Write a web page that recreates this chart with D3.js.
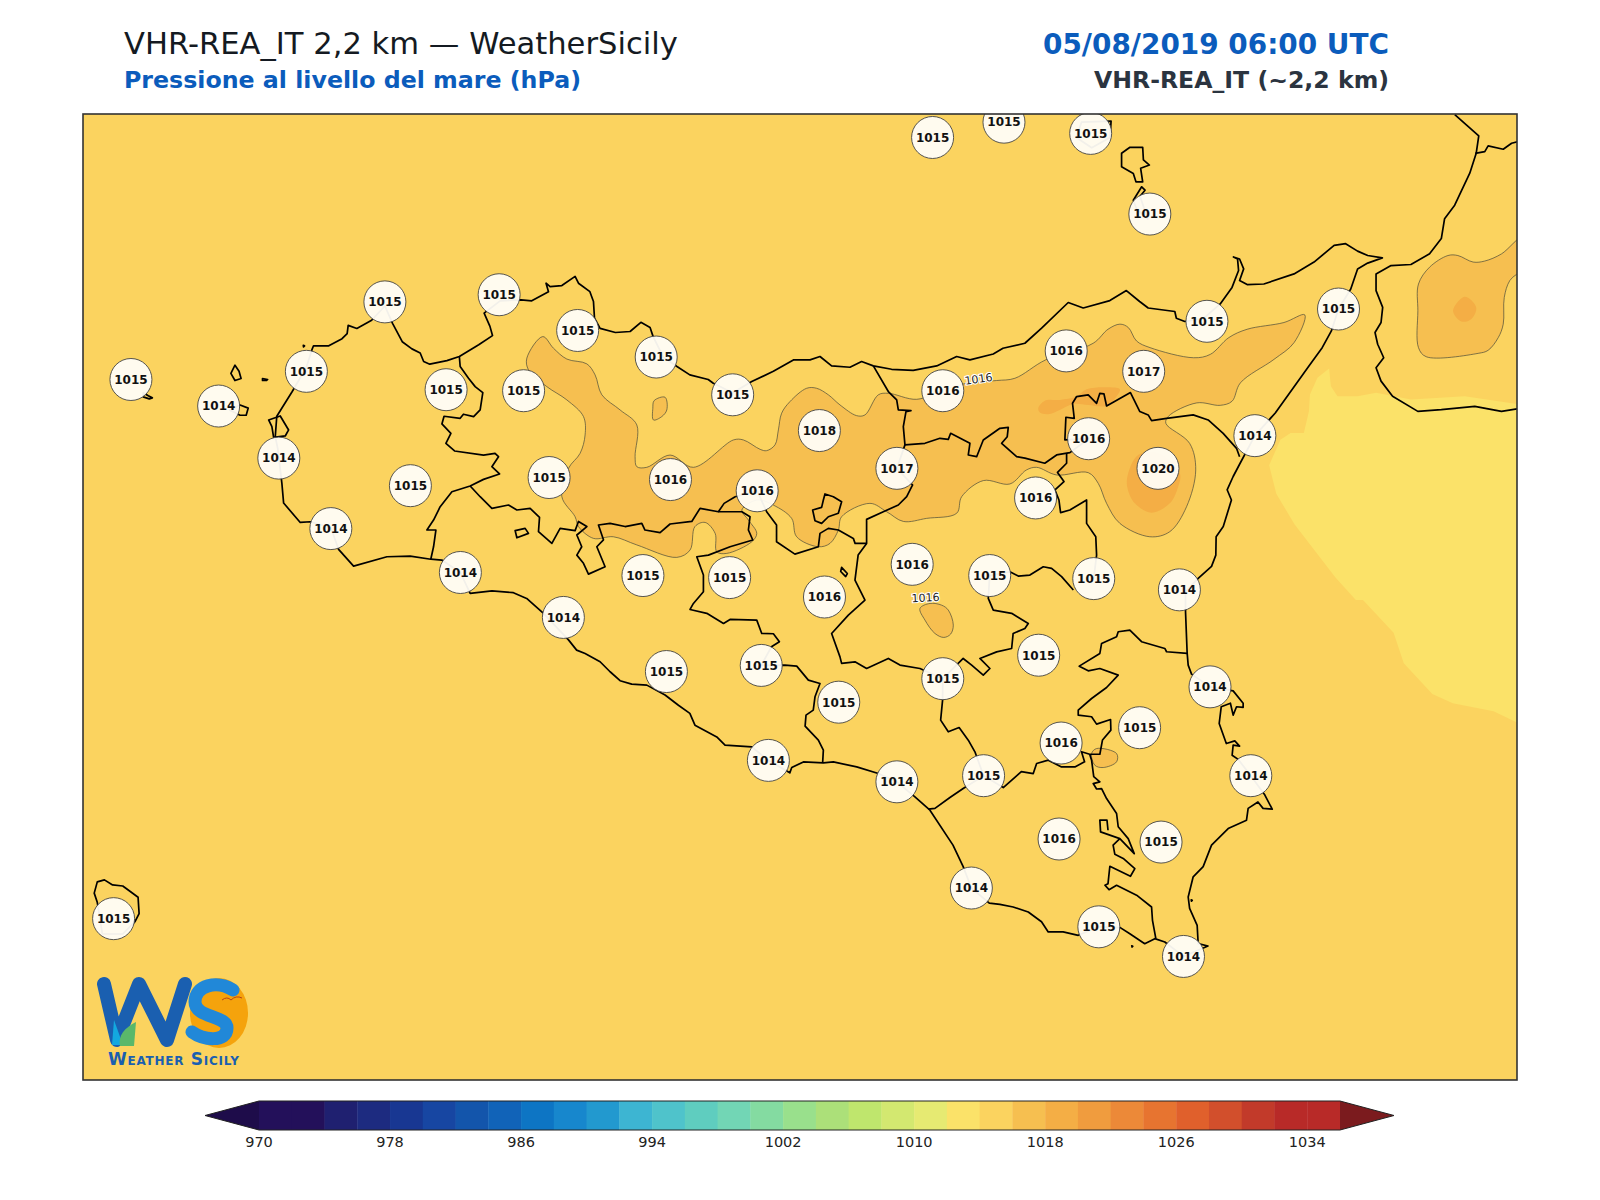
<!DOCTYPE html>
<html>
<head>
<meta charset="utf-8">
<script src="https://cdn.jsdelivr.net/npm/d3@7"></script>
<style>
body { margin: 0; background: #fff; }
svg { display: block; }
text { font-family: "DejaVu Sans", sans-serif; }
</style>
</head>
<body>
<div id="chart"></div>
<script>
// colour bar
var bandStart = [970,972,974,976,978,980,982,984,986,988,990,992,994,996,998,1000,1002,1004,1006,1008,1010,1012,1014,1016,1018,1020,1022,1024,1026,1028,1030,1032,1034];
var bandColor = ["#23105a","#23105a","#1f2070","#1d2b80","#183792","#1746a2","#1355ab","#1163b8","#0d75c4","#1787cd","#2299cf","#3db5d2","#4fc3cb","#5fcdbf","#72d6b5","#84dba1","#99e08c","#ace079","#bfe66d","#d3e870","#e6ea72","#fbe269","#fbd35f","#f6bf50","#f4ae45","#f09c3e","#ec8938","#e77430","#e0602c","#d24f2c","#c23a2a","#b82a28","#b82a28"];
var barTicks = [970,978,986,994,1002,1010,1018,1026,1034];
var underColor = "#1e0c4a", overColor = "#7b1b1e";

// map grid, columns 81-1487 and rows 112-1058
var gridX = [81,1487], gridY = [112,1058];

// pressure stations: column, row, hPa
var stations = [[914,135,1015],[984,120,1015],[1069,131,1015],[1127,210,1015],[377,296,1015],[489,289,1015],[566,324,1015],[643,350,1015],[128,372,1015],[214,398,1014],[300,364,1015],[437,382,1015],[513,383,1015],[718,387,1015],[273,449,1014],[402,476,1015],[538,468,1015],[657,470,1016],[742,481,1016],[803,422,1018],[879,459,1017],[924,383,1016],[1045,344,1016],[1121,364,1017],[1183,315,1015],[1312,303,1015],[1067,430,1016],[1135,459,1020],[1230,427,1014],[1015,488,1016],[324,518,1014],[451,561,1014],[630,564,1015],[715,566,1015],[894,553,1016],[970,564,1015],[1072,567,1015],[1156,578,1014],[808,585,1016],[552,605,1014],[1018,642,1015],[653,658,1015],[746,652,1015],[924,665,1015],[1186,673,1014],[822,688,1015],[1117,713,1015],[1040,728,1016],[753,745,1014],[879,766,1014],[964,760,1015],[1226,760,1014],[1038,822,1016],[1138,825,1015],[952,870,1014],[111,900,1015],[1077,908,1015],[1160,937,1014]];

// pressure bands
var band1012 = [[1302.8,361.2],[1304.5,378.6],[1311,388.4],[1330.7,388.4],[1348.8,385],[1383,391.7],[1435.7,388.4],[1487,396],[1487,708],[1464,697],[1424,689],[1404,680],[1376,650],[1366,620],[1336,588],[1329,588],[1309,566],[1289,540],[1269,514],[1251,484],[1244,456],[1255,431],[1265,424.5],[1278,424.5],[1283,403],[1284,386.8],[1291.3,370.4]];
var band1016Main = [[531.8,330],[542.3,341.4],[555.4,352],[575,356.7],[583.1,367.5],[589.7,387],[607.6,401.8],[624,416.5],[622.3,447.6],[624,457.4],[633.8,458],[656.6,446],[679.5,458],[718.7,431.2],[728.5,431.2],[744.9,440.4],[751.3,441.7],[759.5,436],[762.8,421.4],[766,405],[774.2,393.6],[790.5,380.6],[800.3,380.6],[811.8,387],[823.2,396.9],[839.5,407.4],[847.7,406.7],[860.8,387],[870.6,385.5],[898.4,391.4],[925,382],[947.4,375.7],[976.8,373],[994.7,370.8],[1024.8,352.8],[1071.5,336.5],[1086,322.8],[1097.7,317.8],[1105.9,321.1],[1114,334.3],[1127.2,340.8],[1169.9,350.7],[1186.3,347.4],[1204.4,331],[1222.4,322.8],[1258.5,316.2],[1278.9,308.7],[1268.4,335.9],[1248.7,352.3],[1215.8,375.3],[1207.6,393.3],[1196,397.3],[1173,394.9],[1145.3,408],[1142.7,414.9],[1166,434.5],[1172,460.6],[1163,496.6],[1146.6,521],[1127,526],[1097.6,512.9],[1084.6,493.3],[1076.4,473.7],[1066.6,463.2],[1035.6,465.5],[1016,458],[1006,460.6],[989.8,474.3],[963.7,471],[942.5,486.8],[937.6,503],[908.2,508],[885.3,511],[869,501.5],[852.6,493.3],[824.8,506.4],[821.6,519.4],[813.4,532.5],[802,535.8],[780.7,526],[775.8,508],[757.9,495],[742,490],[727,499.8],[733.4,509.6],[741.6,522.7],[736.7,530.9],[712.2,542.3],[702.4,540.7],[700.8,522.7],[691,512],[681,516],[676.2,539],[663.2,546.2],[624,534],[601,526],[581.5,527.6],[566.8,516],[563.5,506.4],[550.5,486.8],[557,459],[568.4,444.3],[573.3,426.3],[571.7,408.3],[555.4,392],[535.8,379],[517.8,362.6],[516.2,351]];
var band1016Spot = [[641,392.7],[651.7,389.4],[653.4,401.8],[648.5,408.3],[640.3,411.6],[639.7,400.2]];
var band1016Mid = [[901.6,596.2],[906.5,607.6],[916.3,620.7],[925,624.6],[931.7,621.3],[934.3,612.5],[929.4,597.8],[922.9,593],[911.4,591.3]];
var band1016East = [[1069.9,738.3],[1074.8,733.4],[1094.4,738.3],[1094.4,746.4],[1081.3,752],[1073,749.7]];
var band1016Calabria = [[1390.4,278.5],[1401.3,262],[1419.3,250.6],[1429,250.6],[1444,257],[1455.4,256],[1471.8,249],[1492,233],[1492,263],[1480,275],[1474.5,291.6],[1473.5,317.8],[1468.6,331],[1458.7,343.4],[1448.9,346.4],[1398,349.7],[1390.4,340.8],[1389.8,304.7]];
var band1018North = [[1017.6,400],[1024,392.7],[1038.8,392],[1055,388.7],[1065,381.6],[1084.6,379.6],[1097.6,381.6],[1094.4,388.7],[1084.6,397.9],[1066.6,397],[1052,396],[1038.8,401.8],[1027.4,406],[1019.2,404.4]];
var band1018Etna = [[1115.6,446],[1105.8,463.9],[1104.8,477],[1112.3,493.3],[1128.7,502.4],[1146.6,493.3],[1154.8,477],[1156.4,463.9],[1135,444]];
var band1018Calabria = [[1435.7,291],[1447,301.4],[1442,313],[1432.4,315.2],[1424.3,304.7]];

// contour labels: column, row, tilt, text
var contourLabels = [[959,371.5,-8,"1016"],[907,585.7,-3,"1016"]];

// coastline rings
var sicily = [[276,473.7],[272,440],[269.5,428],[271,408],[286,384],[300,360],[305.4,343],[307,339],[322,339],[335,332],[340,327],[341,319],[349.5,322],[364,314],[377,300],[384.5,317],[394,335],[403.5,342],[411.6,346],[415,354.4],[421,357],[437.8,353.5],[450,349.5],[469,338],[482.5,329],[480,320],[474.3,307],[490,295],[510.6,294],[521,295],[537.4,286],[535,277.7],[539,281],[550.5,280],[563.5,271],[566.8,277.7],[578,286],[581.5,295.6],[582.5,312],[588,322],[603,326],[617.4,325],[628,316],[637,321],[640,330],[650,350],[663,359],[676,367.5],[694,372],[699,375.7],[718,385],[736.7,374],[757.9,364],[777.5,352.8],[793.8,352.8],[803.6,349.5],[815,358.7],[833,360],[844.4,354.4],[855.9,358.7],[873.8,362],[895,363],[918,358.7],[937.6,349.5],[950.6,352.8],[973.5,347],[983,341.4],[1004.5,336.5],[1020.9,321.8],[1047,296.6],[1061.7,302],[1087.8,294.7],[1104,284.9],[1117,295.6],[1125.4,302],[1151.5,305.4],[1153,312],[1161.3,315.2],[1180,312],[1196,298],[1207.6,281.8],[1214,265.3],[1213,253.9],[1209,252],[1215,254],[1219,263.7],[1215,275],[1222.4,279],[1238.8,278.5],[1268.4,268.6],[1288,257],[1307.7,240.7],[1319,239],[1330.7,246.3],[1340.6,250.6],[1355,252.9],[1340.6,258],[1330.7,263.7],[1324,283.4],[1312,303],[1305,324.4],[1296,340.8],[1283,358.9],[1250,404.8],[1230,427],[1215,455],[1208.7,467],[1202.8,480],[1207,490],[1199,516],[1192,526],[1191.7,544],[1187.5,555],[1174.4,566.8],[1162,580],[1162,599.4],[1163.6,640],[1164.6,651.7],[1167.9,660.5],[1186,673],[1208.7,676.9],[1218.5,689],[1218.5,693],[1212,692.5],[1208.7,700.7],[1206,689],[1197,692.5],[1195,708.9],[1202,728.5],[1210.3,725.9],[1215,731],[1208.7,730],[1207.7,740],[1213.6,744],[1226,760],[1239.8,779],[1247,792.8],[1238,792],[1233,785.7],[1223.4,792],[1221.8,803.6],[1203.8,811.8],[1187.5,828],[1179.3,849],[1169.5,859],[1164.6,878.8],[1166,890],[1173.4,906.5],[1174.4,924.5],[1184,926.8],[1160,937],[1141.7,922.9],[1131.9,919.6],[1122,924.5],[1107.4,914.7],[1098,908.8],[1077,908],[1056.8,916.3],[1042,913],[1027.4,913],[1020.8,903],[1007.8,893.5],[993,888.6],[980,886],[969.6,884.7],[952,870],[944,849],[934,828],[911.4,793.8],[896.7,780.8],[879,766],[860.8,757.9],[839.6,751.4],[816.7,746.5],[806.9,747.4],[787.3,746.5],[775.9,752],[774,757.2],[753,745],[736.7,731.8],[710.5,730],[702.4,722],[681,710.5],[676,699],[664.8,691],[651.7,681],[633.8,671.3],[619,670.3],[607.6,667],[597.8,658.2],[588,648.4],[573.3,640.3],[565,637],[557,627],[532.5,601],[516,586.4],[503,580.8],[482,579],[460.6,581.5],[451,561],[432.8,548.8],[422,548],[401.8,545],[379,545.6],[346.3,554.7],[331.6,538.4],[324,517],[303.8,511.3],[294,512],[277.7,493]];
var stagnone = [[263,411.6],[274.4,407.7],[282.6,421.4],[279.3,427.3],[267.9,428.6],[266.2,418.2]];
var levanzo = [[230,358],[226,366],[230,373],[236,371],[234,364]];
var formica = [[257,371],[262,372],[261,373],[257,373]];
var favignana = [[235,397],[243,400],[241,407],[235,407],[225,402]];
var marettimo = [[140,385],[145,388],[149,390],[146,391],[140,389]];
var pantelleria = [[92,875],[95,864],[102,862],[110,867],[120,868],[135,879],[136,895],[132,903],[120,915],[100,915],[95,884]];
var lipari = [[1099.3,150.5],[1107.5,144.6],[1120,144.6],[1120.7,157],[1126.6,162],[1118,165.2],[1120,178.4],[1113.4,178.4],[1110.8,170.2],[1099.3,163.6]];
var vulcano = [[1119,183.3],[1122.3,186.6],[1117.4,192.5],[1125,215],[1114,205],[1110.8,196.4]];
var salina = [[1060,120],[1089,119],[1088,135],[1070,145],[1055,135]];
var islets = [[[297,338.5],[298.2,339],[297.2,340]],[[1109.3,926.6],[1110.3,927],[1109.6,927.8]],[[1167.6,881.6],[1168.6,882],[1167.8,882.8]]];
var calabria = [[1426,112.7],[1439,124.2],[1449.5,133.4],[1447,150.5],[1440.7,170],[1425.9,201.3],[1416,214.5],[1412.8,234],[1401.3,248.9],[1383,259.4],[1363.5,260.4],[1348.8,268.6],[1348.8,285],[1355.3,301.4],[1353.7,316.2],[1347.8,326],[1350.4,337.5],[1356.3,350.7],[1348.8,360.5],[1353.7,373.6],[1365,388.4],[1389.8,403.2],[1412.8,401.5],[1445.6,398.3],[1471.8,403.2],[1488,400.6]];
var calabriaBorder = [[1446,150.5],[1455.4,148.8],[1458.7,143.2],[1473.5,146.5],[1481.7,140.6],[1488,139]];

// province borders
var borderTrapani = [[450,349.5],[450.8,359.3],[459,370.8],[465.5,379],[473,384.8],[470.4,401.8],[464,408.3],[454,406],[450.8,410],[435,408],[432.9,415.5],[441.7,424.7],[436.8,434.5],[445.3,442],[473.7,446],[485,444.3],[488.4,447.6],[481.9,457.4],[489.4,464.5],[473.7,469.8],[460.6,476.3],[442.7,481.9],[431.2,496.6],[424.7,509.6],[418.2,519.4],[427,519.4],[424.7,535.8],[422,548]];
var borderPalermo = [[460.6,476.3],[470.4,486.8],[481.9,498.2],[498.2,494.9],[506.4,499.8],[519.4,498.2],[528.6,507],[527.6,521],[540.7,532.5],[548.8,517.8],[563.5,520],[566.8,511],[575,516],[565.2,524.3],[570,535.8],[565.2,544],[571.7,552],[576.6,562.6],[592.9,555.4],[584.8,535.8],[591.3,529],[586.4,514.5],[597.8,512.9],[612.5,516],[628.9,512.9],[632,519.4],[646.8,522],[656.6,513.5],[677.9,511],[686,498.2],[704,501.5],[709.6,493.3],[720.4,486.8]];
var borderSciacca = [[704,501.5],[727,501.5],[735,506.4],[733.4,519.4],[737.7,529.2],[715.4,535.8],[694.2,544],[682.8,545.6],[689.3,563.5],[689.3,579.9],[679.5,591.3],[676.2,597.2],[692.6,601],[709,610.9],[715.4,607],[741.6,607.6],[746.5,620.7],[757.9,621],[763.8,628.8],[756,633.7],[746,652],[769.3,651.7],[780.8,652.7],[792.2,666.4],[803.6,669.7],[798.7,682.7],[797,695.8],[789.9,700.7],[789,711.5],[802,725.2],[806.9,735],[806.2,747.4]];
var borderMadonie = [[855.9,358.7],[870.6,383.8],[878.8,392],[880.4,401.8],[892.8,402.5],[887.9,403.4],[885.3,418.2],[886.9,436],[906.5,434.5],[921.2,429.6],[929.4,430.6],[931.7,424.7],[950.6,434.5],[949,445.9],[957.2,447.6],[963.7,431.2],[980,419.8],[988.2,418.8],[987.2,428],[981.7,434.5],[996.4,447.6],[1004.5,449],[1024,454],[1035.6,445.9],[1048.6,443.6],[1067,430],[1043.7,431.2],[1044.7,409],[1052.9,410],[1051.2,395.3],[1055.2,388.7],[1066.6,387],[1074.8,395.3],[1078,385.5],[1082,386],[1084.6,397.9],[1108,384.8],[1117.2,403.4],[1125.4,406.7],[1128.7,412.3],[1143.4,410],[1169.5,406.7],[1184.2,411.6],[1198.9,424.7],[1212,439.4],[1215,447.6]];
var borderEnna = [[1045.4,444.3],[1045.4,454],[1036.5,463],[1042.8,472],[1034,480.2],[1037.9,490],[1039.5,502.4],[1048.6,499.8],[1065,490],[1065,512.9],[1074,526],[1074.8,544],[1072,567]];
var borderCatania = [[970,564],[989.8,560.3],[998,564.5],[1009.4,563.5],[1022.5,555.4],[1030.7,557],[1040.5,565],[1052,578.2]];
var borderEnnaSouth = [[970,564],[968.6,586.4],[973.5,597.8],[991.5,601],[1007.8,610.9],[1004.5,615.8],[993,620.7],[991.5,635.4],[976.8,638.7],[960.4,645.2],[970.2,655],[963.7,661.5],[952.3,651.7],[944,645.2],[924,665],[901.6,655],[882,651.7],[870.6,645.2],[849.3,655],[837.9,648.5],[824.8,650],[823.2,643.6],[815,620.7],[831.4,602.7],[847.7,588],[837.9,568.4],[841,543.9],[849.3,532.5],[849.3,509],[865.7,501.5],[880.4,494.9],[888.6,486.8],[894.4,475.3],[879,459],[886.9,436]];
var borderSalso = [[849.3,532.5],[838,532.5],[836.3,527.6],[821.6,519.4],[811.8,517.8],[803.6,522.7],[802,535.8],[779,543],[761,530.9],[761,514.5],[751.3,501.5],[742,481],[720.4,486.8]];
var enclaveNorth = [[808.5,484.1],[816.7,486.8],[824.8,491.7],[821.6,503],[811.8,506.4],[805.2,512.9],[798.7,510.3],[796.4,499.8],[805.2,497.2],[806.9,490]];
var enclaveSouth = [[824.8,556],[830.4,562],[828.8,565],[823.9,560]];
var enclaveWest = [[504.7,520],[514.5,517.8],[517.8,522.7],[506.4,527]];
var borderRagusaNorth = [[924,665],[923.8,686],[921.9,705.6],[929.4,717],[940,712.8],[949,725.2],[955.5,736.6],[964,760],[944,772.6],[931,781.4],[916.3,792],[909.8,792.8]];
var borderSiracusa = [[964,760],[983.3,771.6],[1001,756],[1012.7,757.9],[1016,748],[1027.4,744.8],[1040.4,751.4],[1053.5,751.4],[1063,746.4],[1060,736.6],[1068,739],[1078,739],[1080.6,725],[1088.8,715.4],[1088.5,705],[1074.8,709.5],[1069.9,702.3],[1056.8,700.7],[1056.8,695.8],[1069.9,684.4],[1084.6,673.6],[1096,661.5],[1078,655],[1066.6,657.3],[1057.8,652.7],[1078,640.3],[1079.7,630.5],[1094.4,623.9],[1096,619],[1107.4,617.4],[1118.9,628.8],[1141.7,635.4],[1143.4,638.6],[1163.6,640.3]];
var borderRagusaEast = [[1068,739],[1069.9,744.8],[1072,761],[1078,766],[1071.5,767.7],[1074.8,773],[1079.7,772.6],[1084.6,782.4],[1094.4,797],[1096,810],[1105.8,821.6],[1111.7,836.3],[1097.6,821.6],[1078.7,815],[1078,803.6],[1085,803.6],[1086,813.4]];
var borderRagusaSouth = [[1097.6,821.6],[1091,828],[1092.7,837],[1100.9,841],[1112.3,851],[1108,858.5],[1087.8,848.7],[1086,865.7],[1083,867.3],[1087,871.6],[1094.4,867.3],[1114,877],[1128.7,888.6],[1129.6,901.6],[1132.9,919.6]];

var openLines = [calabria, calabriaBorder, borderTrapani, borderPalermo, borderSciacca, borderMadonie, borderEnna, borderCatania, borderEnnaSouth, borderSalso, borderRagusaNorth, borderSiracusa, borderRagusaEast, borderRagusaSouth];
var closedLines = [sicily, stagnone, levanzo, formica, favignana, marettimo, pantelleria, lipari, vulcano, salina, enclaveNorth, enclaveSouth, enclaveWest].concat(islets);

var width = 1600, height = 1200;
var plot = {left: 83, right: 1517, top: 114, bottom: 1080};

var svg = d3.select("#chart").append("svg").attr("width", width).attr("height", height);

var x = d3.scaleLinear().domain(gridX).range([plot.left, plot.right]);
var y = d3.scaleLinear().domain(gridY).range([plot.top, plot.bottom]);

function colorFor(level) {
    return bandColor[bandStart.indexOf(level)];
}

var openPath = d3.line().x(d => x(d[0])).y(d => y(d[1]));
var closedPath = d3.line().x(d => x(d[0])).y(d => y(d[1])).curve(d3.curveLinearClosed);
var smoothPath = d3.line().x(d => x(d[0])).y(d => y(d[1])).curve(d3.curveCatmullRomClosed.alpha(0.5));

svg.append("defs").append("clipPath").attr("id", "plotClip")
    .append("rect")
    .attr("x", plot.left).attr("y", plot.top)
    .attr("width", plot.right - plot.left).attr("height", plot.bottom - plot.top);

var map = svg.append("g").attr("clip-path", "url(#plotClip)");

// background is the 1014-1016 band
map.append("rect")
    .attr("x", plot.left).attr("y", plot.top)
    .attr("width", plot.right - plot.left).attr("height", plot.bottom - plot.top)
    .attr("fill", colorFor(1014));

map.append("path").attr("d", closedPath(band1012)).attr("fill", colorFor(1012));

var bands1016 = [band1016Main, band1016Spot, band1016Mid, band1016East, band1016Calabria];
map.selectAll(".b1016").data(bands1016).enter().append("path")
    .attr("class", "b1016")
    .attr("d", d => smoothPath(d))
    .attr("fill", colorFor(1016))
    .attr("stroke", "#4a4a3a")
    .attr("stroke-width", 0.7);

var bands1018 = [band1018North, band1018Etna, band1018Calabria];
map.selectAll(".b1018").data(bands1018).enter().append("path")
    .attr("class", "b1018")
    .attr("d", d => smoothPath(d))
    .attr("fill", colorFor(1018));

// contour labels
map.selectAll(".clabel").data(contourLabels).enter().append("text")
    .attr("class", "clabel")
    .attr("transform", d => "translate(" + x(d[0]) + "," + y(d[1]) + ") rotate(" + d[2] + ")")
    .attr("text-anchor", "middle")
    .attr("dy", "0.35em")
    .attr("font-size", 11)
    .attr("fill", "#222")
    .attr("stroke", "#fff")
    .attr("stroke-width", 2.2)
    .attr("paint-order", "stroke")
    .text(d => d[3]);

// coast and borders
map.selectAll(".coast").data(closedLines).enter().append("path")
    .attr("class", "coast")
    .attr("d", d => closedPath(d))
    .attr("fill", "none").attr("stroke", "#000").attr("stroke-width", 1.7).attr("stroke-linejoin", "round");
map.selectAll(".border").data(openLines).enter().append("path")
    .attr("class", "border")
    .attr("d", d => openPath(d))
    .attr("fill", "none").attr("stroke", "#000").attr("stroke-width", 1.7).attr("stroke-linejoin", "round");

// station markers
var marker = map.selectAll(".station").data(stations).enter().append("g")
    .attr("class", "station")
    .attr("transform", d => "translate(" + x(d[0]) + "," + y(d[1]) + ")");
marker.append("circle")
    .attr("r", 21)
    .attr("fill", "#fffdf7")
    .attr("fill-opacity", 0.95)
    .attr("stroke", "#444")
    .attr("stroke-width", 0.9);
marker.append("text")
    .attr("text-anchor", "middle")
    .attr("dy", "0.36em")
    .attr("font-size", 12)
    .attr("font-weight", "bold")
    .attr("fill", "#111")
    .text(d => d[2]);

// frame
svg.append("rect")
    .attr("x", plot.left).attr("y", plot.top)
    .attr("width", plot.right - plot.left).attr("height", plot.bottom - plot.top)
    .attr("fill", "none").attr("stroke", "#333").attr("stroke-width", 1.6);

// titles
svg.append("text").attr("x", 124).attr("y", 54).attr("font-size", 30.6).attr("fill", "#141a22")
    .text("VHR-REA_IT 2,2 km \u2014 WeatherSicily");
svg.append("text").attr("x", 124).attr("y", 88).attr("font-size", 23.7).attr("font-weight", "bold").attr("fill", "#0b5cbc")
    .text("Pressione al livello del mare (hPa)");
svg.append("text").attr("x", 1389).attr("y", 54).attr("text-anchor", "end").attr("font-size", 27.9).attr("font-weight", "bold").attr("fill", "#0b5cbc")
    .text("05/08/2019 06:00 UTC");
svg.append("text").attr("x", 1389).attr("y", 88).attr("text-anchor", "end").attr("font-size", 23.6).attr("font-weight", "bold").attr("fill", "#2b3440")
    .text("VHR-REA_IT (~2,2 km)");

// colour bar
var bar = {top: 1101, bottom: 1130, tipLeft: 205, tipRight: 1394};
var barX = d3.scaleLinear().domain([970, 1036]).range([259, 1340]);
var barG = svg.append("g");
barG.selectAll(".band").data(bandStart).enter().append("rect")
    .attr("class", "band")
    .attr("x", d => barX(d))
    .attr("y", bar.top)
    .attr("width", d => barX(d + 2) - barX(d) + 0.4)
    .attr("height", bar.bottom - bar.top)
    .attr("fill", (d, i) => bandColor[i]);
var barMid = (bar.top + bar.bottom) / 2;
barG.append("path")
    .attr("d", "M" + barX(970) + "," + bar.top + "L" + bar.tipLeft + "," + barMid + "L" + barX(970) + "," + bar.bottom + "Z")
    .attr("fill", underColor);
barG.append("path")
    .attr("d", "M" + barX(1036) + "," + bar.top + "L" + bar.tipRight + "," + barMid + "L" + barX(1036) + "," + bar.bottom + "Z")
    .attr("fill", overColor);
barG.append("path")
    .attr("d", "M" + barX(970) + "," + bar.top + "H" + barX(1036) + "L" + bar.tipRight + "," + barMid + "L" + barX(1036) + "," + bar.bottom + "H" + barX(970) + "L" + bar.tipLeft + "," + barMid + "Z")
    .attr("fill", "none").attr("stroke", "#222").attr("stroke-width", 1);
barG.selectAll(".tick").data(barTicks).enter().append("text")
    .attr("class", "tick")
    .attr("x", d => barX(d))
    .attr("y", 1147)
    .attr("text-anchor", "middle")
    .attr("font-size", 14.5)
    .attr("fill", "#222")
    .text(d => d);

// logo
var logo = svg.append("g");
logo.append("ellipse").attr("cx", 219).attr("cy", 1013).attr("rx", 29).attr("ry", 35).attr("fill", "#f5a30c");
logo.append("path")
    .attr("d", "M104,984L117,1040L139,984L167,1040L185,984")
    .attr("fill", "none").attr("stroke", "#1a5fb0").attr("stroke-width", 14)
    .attr("stroke-linejoin", "round").attr("stroke-linecap", "round");
logo.append("path")
    .attr("d", "M233,990C217,980 195,985 195,1002C195,1018 227,1015 227,1028C227,1043 203,1040 192,1032")
    .attr("fill", "none").attr("stroke", "#2188d8").attr("stroke-width", 13).attr("stroke-linecap", "round");
logo.append("path").attr("d", "M114,1020L123,1045L112,1045Z").attr("fill", "#13a8e0");
logo.append("path").attr("d", "M136,1022C124,1028 118,1036 120,1046L134,1046Z").attr("fill", "#5ab86a");
logo.append("path").attr("d", "M222,1000q5,-4 9,0q5,-5 11,-2").attr("fill", "none").attr("stroke", "#b5431a").attr("stroke-width", 1);
logo.append("text").attr("x", 108).attr("y", 1065)
    .attr("font-family", "Liberation Sans").attr("font-size", 17).attr("font-weight", "bold")
    .attr("font-variant", "small-caps").attr("fill", "#1a5fb0").attr("textLength", 131)
    .text("Weather Sicily");
</script>
</body>
</html>
